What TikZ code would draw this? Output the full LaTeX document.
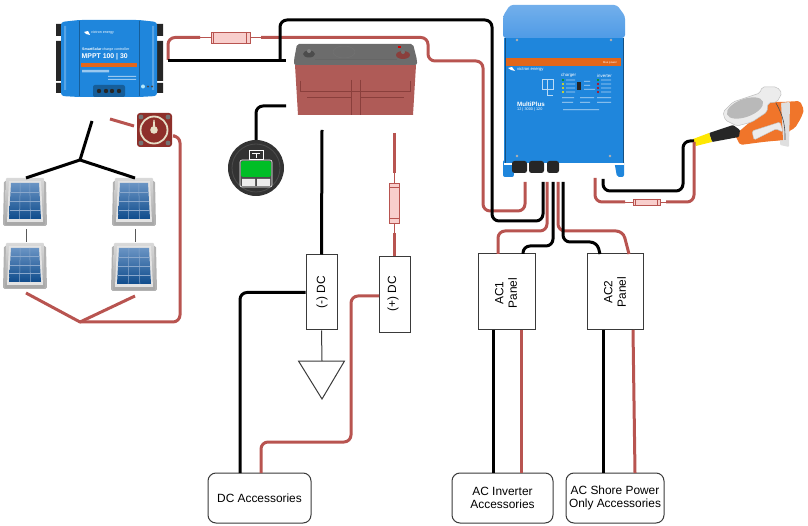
\documentclass[tikz,border=0pt]{standalone}
\usepackage{fontspec}
\setmainfont{Liberation Sans}
\usetikzlibrary{calc}
\definecolor{wirered}{HTML}{B85450}
\definecolor{fusefill}{HTML}{F8CECC}
\definecolor{boxline}{HTML}{3A3A3A}
\definecolor{vblue}{HTML}{1F86DC}
\definecolor{vcap}{HTML}{4F9BE6}
\definecolor{vorange}{HTML}{E2661A}
\definecolor{plugorange}{HTML}{F0752A}
\definecolor{cream}{HTML}{E6DEC6}
\definecolor{swred}{HTML}{8E2F2A}
\definecolor{celltop}{HTML}{6A94C4}
\definecolor{cellbot}{HTML}{0F4C8C}
\definecolor{cellgrid}{HTML}{8AA8CC}
\tikzset{
  redwire/.style={draw=wirered,line width=3pt,rounded corners=7pt},
  blackwire/.style={draw=black,line width=3pt,rounded corners=7pt},
  thinred/.style={draw=wirered,line width=.8pt},
  thinline/.style={draw=boxline,line width=1pt},
  fusebox/.style={draw=wirered,fill=fusefill,line width=.8pt,inner sep=0pt},
  panelbox/.style={draw=boxline,line width=1pt,fill=white,inner sep=0pt,align=center,font=\fontsize{11.9}{13.5}\selectfont},
  roundbox/.style={panelbox,rounded corners=8pt,minimum height=50pt},
  tinywhite/.style={text=white,inner sep=0pt},
}
\newcommand{\solarpanel}[4]{%
  \fill[gray!60,rounded corners=1.5pt] (#1,#2+3) -- (#3,#2+3) -- (#3+1,#4) -- (#1-1,#4) -- cycle;
  \shade[top color=gray!30,bottom color=gray!70,rounded corners=1pt] (#1+2,#2) -- (#3-2,#2) -- (#3-1,#4-1) -- (#1+1,#4-1) -- cycle;
  \fill[gray!22] (#1+5,#2+3) -- (#3-5,#2+3) -- (#3-3,#4-4) -- (#1+3,#4-4) -- cycle;
  \shade[top color=celltop,bottom color=cellbot] (#1+7,#2+5) -- (#3-7,#2+5) -- (#3-5,#4-7) -- (#1+5,#4-7) -- cycle;
  \foreach \gx in {0.33,0.67}{\draw[cellgrid,line width=.5pt] ({#1+7+\gx*(#3-#1-14)},#2+5) -- ({#1+5+\gx*(#3-#1-10)},#4-7);}
  \foreach \gy in {0.25,0.5,0.75}{\draw[cellgrid,line width=.5pt] ({#1+7-2*\gy},{#2+5+\gy*(#4-#2-12)}) -- ({#3-7+2*\gy},{#2+5+\gy*(#4-#2-12)});}
}
\begin{document}
\begin{tikzpicture}[x=1pt,y=-1pt]
\useasboundingbox (0,0) rectangle (808,526);

% ---------- MPPT controller
\fill[black!85] (56,24) rectangle (63,36) (56,41) rectangle (63,81) (56,83) rectangle (63,93);
\fill[black!85] (155,24) rectangle (163,36) (155,41) rectangle (163,81) (155,83) rectangle (163,93);
\fill[vblue,rounded corners=3pt] (61,22) -- (79,20) -- (139,20) -- (157,22) -- (157,96) -- (139,97) -- (79,97) -- (61,96) -- cycle;
\fill[white!25!vblue] (64,26) rectangle (66,90) (152,26) rectangle (154,90);
\draw[black!30!vblue,line width=.5pt] (79,21) -- (79,96) (139,21) -- (139,96);
\fill[vorange] (81,63) rectangle (137,67);
\node[tinywhite,anchor=west,font=\fontsize{3.6}{4}\selectfont] (mpptlogo) at (91,33) {victron energy};
\fill[white] (84,32) -- (88,31) -- (90,35) -- (86,34) -- cycle;
\node[tinywhite,anchor=west,font=\fontsize{3.6}{4}\selectfont] (mpptsub) at (82,49.5) {\textbf{SmartSolar} charge controller};
\node[tinywhite,anchor=west,font=\bfseries\fontsize{6.9}{8}\selectfont] (mpptname) at (81.5,57) {MPPT 100 | 30};
\fill[white!55!vblue] (82,70) rectangle (109,72.5) (108,76) rectangle (136,77) (108,79) rectangle (136,80);
\fill[black!30!vblue,rounded corners=2pt] (93,85) rectangle (125,97);
\foreach \tx in {99,106,112,119}{\fill[black!85] (\tx,91) circle (2.2);}
\fill[white!70!cyan] (143,86.5) circle (2);
\fill[black!70] (148,86.5) circle (1.2) (152,86.5) circle (1.2);

% ---------- battery switch
\fill[swred,rounded corners=3pt] (137,113) rectangle (172,147);
\fill[black!55] (141,117) circle (2.4) (168,117) circle (2.4) (141,143) circle (2.4) (168,143) circle (2.4);
\fill[swred] (154,130) circle (15);
\draw[cream,line width=1.8pt] (154,130) circle (13.5);
\fill[cream] (154,130) circle (3.8);
\fill[cream] (152.7,129) -- (153.4,120) -- (154.6,120) -- (155.3,129) -- cycle;

% ---------- solar panels
\solarpanel{4}{178}{46}{226}
\solarpanel{4}{243}{46}{289}
\solarpanel{113}{178}{155}{226}
\solarpanel{112}{243}{156}{291}

% ---------- battery
\fill[wirered!85!gray] (295,65) -- (416,65) -- (413,115) -- (298,115) -- cycle;
\draw[wirered!75!black,line width=.7pt] (300,81) -- (300,91) -- (410,91) -- (410,81) (351,80) -- (351,115) (360,80) -- (360,115);
\draw[wirered!75!black,line width=1pt] (307,98) -- (351,98) (361,98) -- (404,98);
\fill[gray!85!black,rounded corners=2pt] (297,44) -- (413,44) -- (417,60) -- (417,65) -- (294,65) -- (294,60) -- cycle;
\draw[black!60,line width=.5pt] (315,59) -- (397,59);
\draw[black!55,line width=.4pt] (344,52) ellipse (11 and 6);
\fill[black!70] (309,54) ellipse (6 and 3.5);
\fill[black!50] (309,51) circle (2);
\fill[wirered!75!black] (403,55) ellipse (7 and 4);
\fill[black!55] (403,52) circle (2);
\fill[red!85!black] (398,46) rectangle (401,48);

% ---------- battery monitor
\fill[black!80] (256,168) circle (28);
\draw[gray!60!black,line width=.8pt] (256,168) circle (24);
\draw[white,line width=.6pt,rounded corners=2pt,fill=black!70] (240,160) rectangle (272,187);
\draw[white,line width=.6pt] (249,150) rectangle (263,159);
\draw[white,line width=.5pt] (252,153) -- (260,153) (256,153) -- (256,158);
\fill[green!70!black!85!cyan,rounded corners=2pt] (241,161) rectangle (271,177);
\fill[white!85!gray] (242,179) rectangle (255,186) (257,179) rectangle (270,186);

% ---------- MultiPlus
\fill[vblue!90!black] (504,150) rectangle (624,163);
\fill[vblue,rounded corners=2pt] (503,160) -- (513,160) -- (514,177) -- (503,177) -- cycle;
\fill[vblue,rounded corners=2pt] (614,160) -- (624,160) -- (624,177) -- (617,177) -- cycle;
\shade[top color=vcap!80,bottom color=vcap,rounded corners=3pt] (510,5) -- (617,5) -- (625,16) -- (625,38) -- (503,38) -- (503,16) -- cycle;
\fill[vblue] (504,38) rectangle (624,163);
\draw[black!40!vblue,line width=.7pt] (505,38) -- (505,163) (623,38) -- (623,163);
\fill[vorange] (506,58) rectangle (621,66);
\node[tinywhite,font=\fontsize{2.8}{3}\selectfont] (multitag) at (610,62.5) {blue power};
\fill[gray!60] (517,40) circle (1.3) (611,40) circle (1.3) (517,156) circle (1.3) (610,156) circle (1.3);
\fill[white] (504,163) rectangle (624,165);
\foreach \gx/\gw in {512/15,529/15,547/12}{\fill[black!85,rounded corners=2.5pt] (\gx,161) rectangle (\gx+\gw,173);}
\fill[white] (508,68) -- (512,67) -- (515,71) -- (511,70) -- cycle;
\node[tinywhite,anchor=west,font=\fontsize{4.2}{5}\selectfont] (multilogo) at (517,69) {victron energy};
\draw[white!70!vblue,line width=.35pt] (542,79) -- (553,79) -- (553,89) -- (542,89) -- cycle (547,79) -- (547,95) -- (553,95);
\node[tinywhite,anchor=west,font=\fontsize{4.4}{5}\selectfont] (multichg) at (561,75.5) {charger};
\node[tinywhite,anchor=west,font=\fontsize{4.4}{5}\selectfont] (multiinv) at (597,75.5) {inverter};
\fill[green!60!black] (563,80) circle (1.1) (598,80) circle (1.1);
\fill[yellow!90!orange] (563,84) circle (1.1) (563,88) circle (1.1) (563,92) circle (1.1);
\fill[red!80!black] (598,84) circle (1.1) (598,88) circle (1.1) (598,92) circle (1.1);
\fill[black!85] (577,82) rectangle (581,90);
\foreach \ly in {80,84,88,92}{\fill[white!65!vblue] (566,\ly-.4) rectangle (575,\ly+.4) (601,\ly-.4) rectangle (611,\ly+.4);}
\fill[white!65!vblue] (584,81) rectangle (590,81.7) (584,85) rectangle (590,85.7) (584,89) rectangle (595,89.7);
\fill[white!70!vblue] (562,97.5) rectangle (574,98.2) (580,97.5) rectangle (594,98.2) (597,97.5) rectangle (611,98.2) (562,102) rectangle (573,102.7) (580,102) rectangle (590,102.7) (597,102) rectangle (611,102.7) (563,109.5) rectangle (599,110.2);
\node[tinywhite,anchor=west,font=\bfseries\fontsize{6.2}{7}\selectfont] (multiname) at (517,104.5) {MultiPlus};
\node[tinywhite,anchor=west,font=\fontsize{3.8}{4}\selectfont] (multimodel) at (517,109.5) {12 | 3000 | 120};

% ---------- shore power socket
\fill[plugorange,rounded corners=2pt] (735,135) -- (750,122) -- (766,112) -- (768,102) -- (782,102) -- (800,101) -- (804,110) -- (801,118) -- (795,128) -- (789,131) -- (783,140) -- (763,142) -- (740,145) -- cycle;
\fill[gray!25,rounded corners=1pt] (780,103) -- (790,102) -- (789,147) -- (780,145) -- cycle;
\fill[plugorange] (768,103) -- (781,103) -- (783,140) -- (770,141) -- cycle;
\draw[black!70,line width=.6pt] (776,103) to[bend left=15] (785,140);
\fill[gray!15,draw=gray!50,line width=.4pt,rounded corners=1.5pt] (752,131) -- (780,122) -- (783,132) -- (776,129) -- (754,140) -- cycle;
\fill[black!85,rounded corners=1pt] (709,133) -- (733,125) -- (740,130) -- (739,137) -- (712,142) -- cycle;
\fill[yellow!90!orange] (693,139) -- (709,133) -- (712,142) -- (696,146) -- cycle;
\fill[gray!15,draw=gray!50,line width=.5pt,rounded corners=2pt] (723,112) -- (733,102) -- (760,93) -- (762,87) -- (777,87) -- (782,93) -- (777,102) -- (768,103) -- (767,112) -- (752,122) -- (737,126) -- (725,120) -- cycle;
\fill[gray!55,rotate around={20:(745,108)}] (745,108) ellipse (19 and 9);

% ---------- boxes
\node[panelbox,minimum width=31pt,minimum height=75pt] (dcneg) at (321.5,292.5) {};
\node[rotate=90,inner sep=0pt,font=\fontsize{11.9}{13.5}\selectfont] (dcnegtext) at (322,292) {(-) DC};
\node[panelbox,minimum width=31pt,minimum height=76pt] (dcpos) at (394.5,295) {};
\node[rotate=90,inner sep=0pt,font=\fontsize{11.9}{13.5}\selectfont] (dcpostext) at (393,294) {(+) DC};
\node[panelbox,minimum width=57pt,minimum height=76pt] (acone) at (506.5,292) {};
\node[rotate=90,inner sep=0pt,align=center,font=\fontsize{11.9}{13.5}\selectfont] (aconetext) at (506,293) {AC1\\Panel};
\node[panelbox,minimum width=56pt,minimum height=76pt] (actwo) at (615,292) {};
\node[rotate=90,inner sep=0pt,align=center,font=\fontsize{11.9}{13.5}\selectfont] (actwotext) at (615,292) {AC2\\Panel};
\node[roundbox,minimum width=103pt] (dcacc) at (259.5,498) {DC Accessories};
\node[roundbox,minimum width=101pt] (acinv) at (502.5,498) {AC Inverter\\Accessories};
\node[roundbox,minimum width=98pt] (acshore) at (615,498) {AC Shore Power\\Only Accessories};

% ---------- fuses
\node[fusebox,minimum width=39pt,minimum height=11pt] (fuseA) at (230.5,37.5) {};
\draw[thinred] ($(fuseA.west)+(3,-5.5)$) -- ($(fuseA.west)+(3,5.5)$) ($(fuseA.east)+(-4,-5.5)$) -- ($(fuseA.east)+(-4,5.5)$);
\node[fusebox,minimum width=10pt,minimum height=40pt] (fuseB) at (394,203) {};
\draw[thinred] ($(fuseB.north)+(-5,5)$) -- ($(fuseB.north)+(5,5)$) ($(fuseB.south)+(-5,-5)$) -- ($(fuseB.south)+(5,-5)$);
\node[fusebox,minimum width=27pt,minimum height=6pt] (fuseC) at (646.5,202) {};
\draw[thinred] ($(fuseC.west)+(3,-3)$) -- ($(fuseC.west)+(3,3)$) ($(fuseC.east)+(-3,-3)$) -- ($(fuseC.east)+(-3,3)$);

% ---------- free ends and junctions
\coordinate (mpptplus) at (168,60);
\coordinate (mpptminus) at (168,61);
\coordinate (fuseAin) at (200,37.5);
\coordinate (fuseAout) at (261,37.5);
\coordinate (multiDCp) at (525,182);
\coordinate (multiDCn) at (543,182);
\coordinate (batneg) at (286,61);
\coordinate (monbat) at (286,106);
\coordinate (montop) at (256,140);
\coordinate (negtop) at (322,130);
\coordinate (postop) at (394,133);
\coordinate (posthin) at (394,173);
\coordinate (posmid) at (394,233);
\coordinate (yTop) at (92,121);
\coordinate (yMid) at (80,160);
\coordinate (pTL) at (26,178);
\coordinate (pTR) at (135,178);
\coordinate (pTLb) at (26,229);
\coordinate (pBLt) at (26,242);
\coordinate (pTRb) at (135,229);
\coordinate (pBRt) at (135,242);
\coordinate (pBL) at (26,293);
\coordinate (pBR) at (135,296);
\coordinate (rJoin) at (80,322);
\coordinate (swIn) at (110,119);
\coordinate (swInEnd) at (134,126);
\coordinate (swOut) at (175,136);
\coordinate (gndTop) at (322,361);
\coordinate (gndL) at (298.5,361);
\coordinate (gndR) at (344.5,361);
\coordinate (gndTip) at (322,399);
\coordinate (aconeR) at (498,254);
\coordinate (aconeB) at (523,254);
\coordinate (actwoR) at (629,254);
\coordinate (actwoB) at (600,254);
\coordinate (aconeBo) at (493,330);
\coordinate (aconeRo) at (521,330);
\coordinate (actwoBo) at (603,330);
\coordinate (actwoRo) at (633,330);
\coordinate (acinvB) at (493,473);
\coordinate (acinvR) at (521,473);
\coordinate (acshoreB) at (603,473);
\coordinate (acshoreR) at (635,473);
\coordinate (dcaccB) at (240,473);
\coordinate (dcaccR) at (261,473);
\coordinate (dcposW) at (379,296);

% ---------- wires: charge controller and battery
\draw[redwire] (mpptplus) |- (fuseAin);
\draw[thinred] (fuseAin) -- (fuseA.west);
\draw[thinred] (fuseA.east) -- (fuseAout);
\draw[redwire] (fuseAout) -- (428,37.5) -- (428,61) -- (483,61) -- (483,211) -- (525,211) -- (multiDCp);
\draw[blackwire,rounded corners=0pt] (mpptminus) -- (batneg);
\draw[blackwire] (280,61) -- (280,20) -- (492,20) -- (492,221) -- (543,221) -- (multiDCn);
\draw[blackwire] (monbat) -| (montop);
% DC distribution
\draw[blackwire] (negtop) -- (dcneg.north);
\draw[redwire] (postop) -- (posthin);
\draw[thinred] (posthin) -- (fuseB.north);
\draw[thinred] (fuseB.south) -- (posmid);
\draw[redwire] (posmid) -- (posmid |- dcpos.north);
\draw[blackwire] (dcneg.west) -| (dcaccB);
\draw[redwire] (dcposW) -- (351,296) -- (351,442) -- (261,442) -- (dcaccR);
\draw[thinline] (dcneg.south) -- (gndTop);
\draw[thinline,line join=miter] (gndL) -- (gndR) -- (gndTip) -- cycle;
% solar
\draw[blackwire,rounded corners=0pt,line join=round] (yTop) -- (yMid);
\draw[blackwire,rounded corners=0pt,line join=round] (pTL) -- (yMid) -- (pTR);
\draw[thinline,draw=gray!70!black] (pTLb) -- (pBLt);
\draw[thinline,draw=gray!70!black] (pTRb) -- (pBRt);
\draw[redwire,rounded corners=0pt,line join=round] (pBL) -- (rJoin) -- (pBR);
\draw[redwire] (rJoin) -- (180,322) -- (180,136) -- (swOut);
\draw[redwire,rounded corners=0pt] (swIn) -- (swInEnd);
% AC from MultiPlus
\draw[redwire] (547,182) -- (547,231) -- (498,231) -- (aconeR);
\draw[blackwire] (553,182) -- (553,246) -- (523,246) -- (aconeB);
\draw[redwire] (558,182) -- (558,231) -- (623,231) -- (actwoR);
\draw[blackwire] (563,182) -- (563,242) -- (597,242) -- (actwoB);
% AC to accessories
\draw[blackwire] (aconeBo) -- (acinvB);
\draw[redwire] (aconeRo) -- (acinvR);
\draw[blackwire] (actwoBo) -- (acshoreB);
\draw[redwire] (actwoRo) -- (acshoreR);
% shore
\draw[blackwire] (603,179) -- (603,191) -- (683,191) -- (683,141) -- (694,141);
\draw[redwire] (595,178) -- (595,202) -- (625,202);
\draw[thinred] (625,202) -- (fuseC.west);
\draw[thinred] (fuseC.east) -- (666,202);
\draw[redwire] (666,202) -- (694,202) -- (694,142);
\end{tikzpicture}
\end{document}
